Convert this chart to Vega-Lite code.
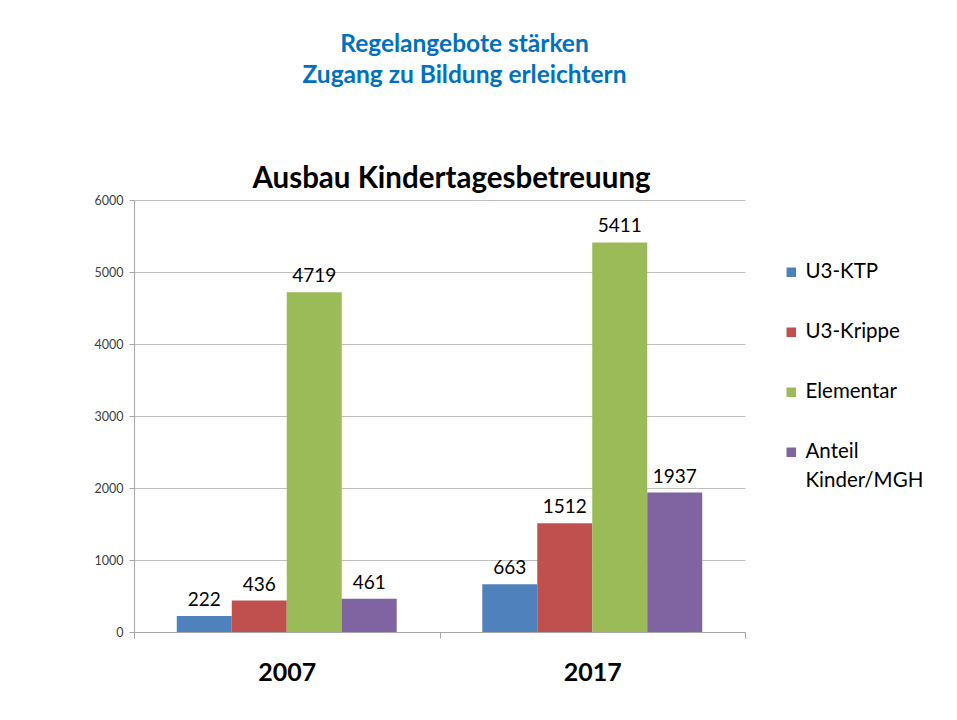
{
  "$schema": "https://vega.github.io/schema/vega-lite/v6.json",
  "background": "white",
  "padding": {"left": 94, "top": 32, "right": 0, "bottom": 0},
  "autosize": {"type": "pad"},
  "title": {
    "text": ["Regelangebote stärken", "Zugang zu Bildung erleichtern"],
    "color": "#0070C0",
    "font": "Lato",
    "fontSize": 24.5,
    "fontWeight": "bold",
    "lineHeight": 31,
    "anchor": "middle",
    "frame": "group",
    "dx": 25,
    "offset": 75
  },
  "vconcat": [
    {
      "width": 611,
      "height": 432,
      "title": {
        "text": "Ausbau Kindertagesbetreuung",
        "color": "#000000",
        "font": "Lato",
        "fontSize": 29.5,
        "fontWeight": "bold",
        "anchor": "middle",
        "dx": 12,
        "offset": 0
      },
      "data": {
        "values": [
          {"year": "2007", "series": "U3-KTP", "value": 222},
          {"year": "2007", "series": "U3-Krippe", "value": 436},
          {"year": "2007", "series": "Elementar", "value": 4719},
          {"year": "2007", "series": "Anteil Kinder/MGH", "value": 461},
          {"year": "2017", "series": "U3-KTP", "value": 663},
          {"year": "2017", "series": "U3-Krippe", "value": 1512},
          {"year": "2017", "series": "Elementar", "value": 5411},
          {"year": "2017", "series": "Anteil Kinder/MGH", "value": 1937}
        ]
      },
      "encoding": {
        "x": {
          "field": "year",
          "type": "nominal",
          "scale": {"paddingInner": 0, "paddingOuter": 0},
          "axis": {
            "title": null,
            "labelAngle": 0,
            "labelFont": "Lato",
            "labelFontSize": 25,
            "labelFontWeight": "bold",
            "labelColor": "#000000",
            "labelPadding": 22,
            "domainColor": "#A6A6A6",
            "tickColor": "#A6A6A6",
            "tickSize": 6,
            "tickBand": "extent"
          }
        },
        "xOffset": {
          "field": "series",
          "type": "nominal",
          "sort": ["U3-KTP", "U3-Krippe", "Elementar", "Anteil Kinder/MGH"],
          "scale": {"paddingInner": 0, "paddingOuter": 0.778}
        },
        "y": {
          "field": "value",
          "type": "quantitative",
          "scale": {"domain": [0, 6000]},
          "axis": {
            "title": null,
            "values": [0, 1000, 2000, 3000, 4000, 5000, 6000],
            "format": "d",
            "grid": true,
            "gridColor": "#BFBFBF",
            "domainColor": "#A6A6A6",
            "tickColor": "#A6A6A6",
            "tickSize": 5,
            "labelPadding": 6,
            "labelFont": "Lato",
            "labelFontSize": 12.5,
            "labelColor": "#404040"
          }
        }
      },
      "layer": [
        {
          "mark": {"type": "bar"},
          "encoding": {
            "color": {
              "field": "series",
              "type": "nominal",
              "scale": {
                "domain": ["U3-KTP", "U3-Krippe", "Elementar", "Anteil Kinder/MGH"],
                "range": ["#4F81BD", "#C0504D", "#9BBB59", "#8064A2"]
              },
              "legend": {
                "title": null,
                "orient": "none",
                "legendX": 647,
                "legendY": 62,
                "padding": 0,
                "symbolType": "square",
                "symbolSize": 90,
                "symbolStrokeWidth": 0,
                "labelFont": "Lato",
                "labelFontSize": 20.5,
                "labelColor": "#000000",
                "labelOffset": 4,
                "rowPadding": 39,
                "labelLimit": 300,
                "labelBaseline": "middle",
                "labelExpr": "datum.label == 'Anteil Kinder/MGH' ? ['Anteil', 'Kinder/MGH'] : datum.label"
              }
            }
          }
        },
        {
          "mark": {"type": "text", "baseline": "alphabetic", "dy": -10, "fontSize": 19, "font": "Lato", "color": "#000000"},
          "encoding": {
            "text": {"field": "value", "type": "quantitative", "format": "d"}
          }
        }
      ]
    }
  ],
  "config": {
    "view": {"stroke": null},
    "style": {"guide-label": {"lineHeight": 29}}
  }
}
